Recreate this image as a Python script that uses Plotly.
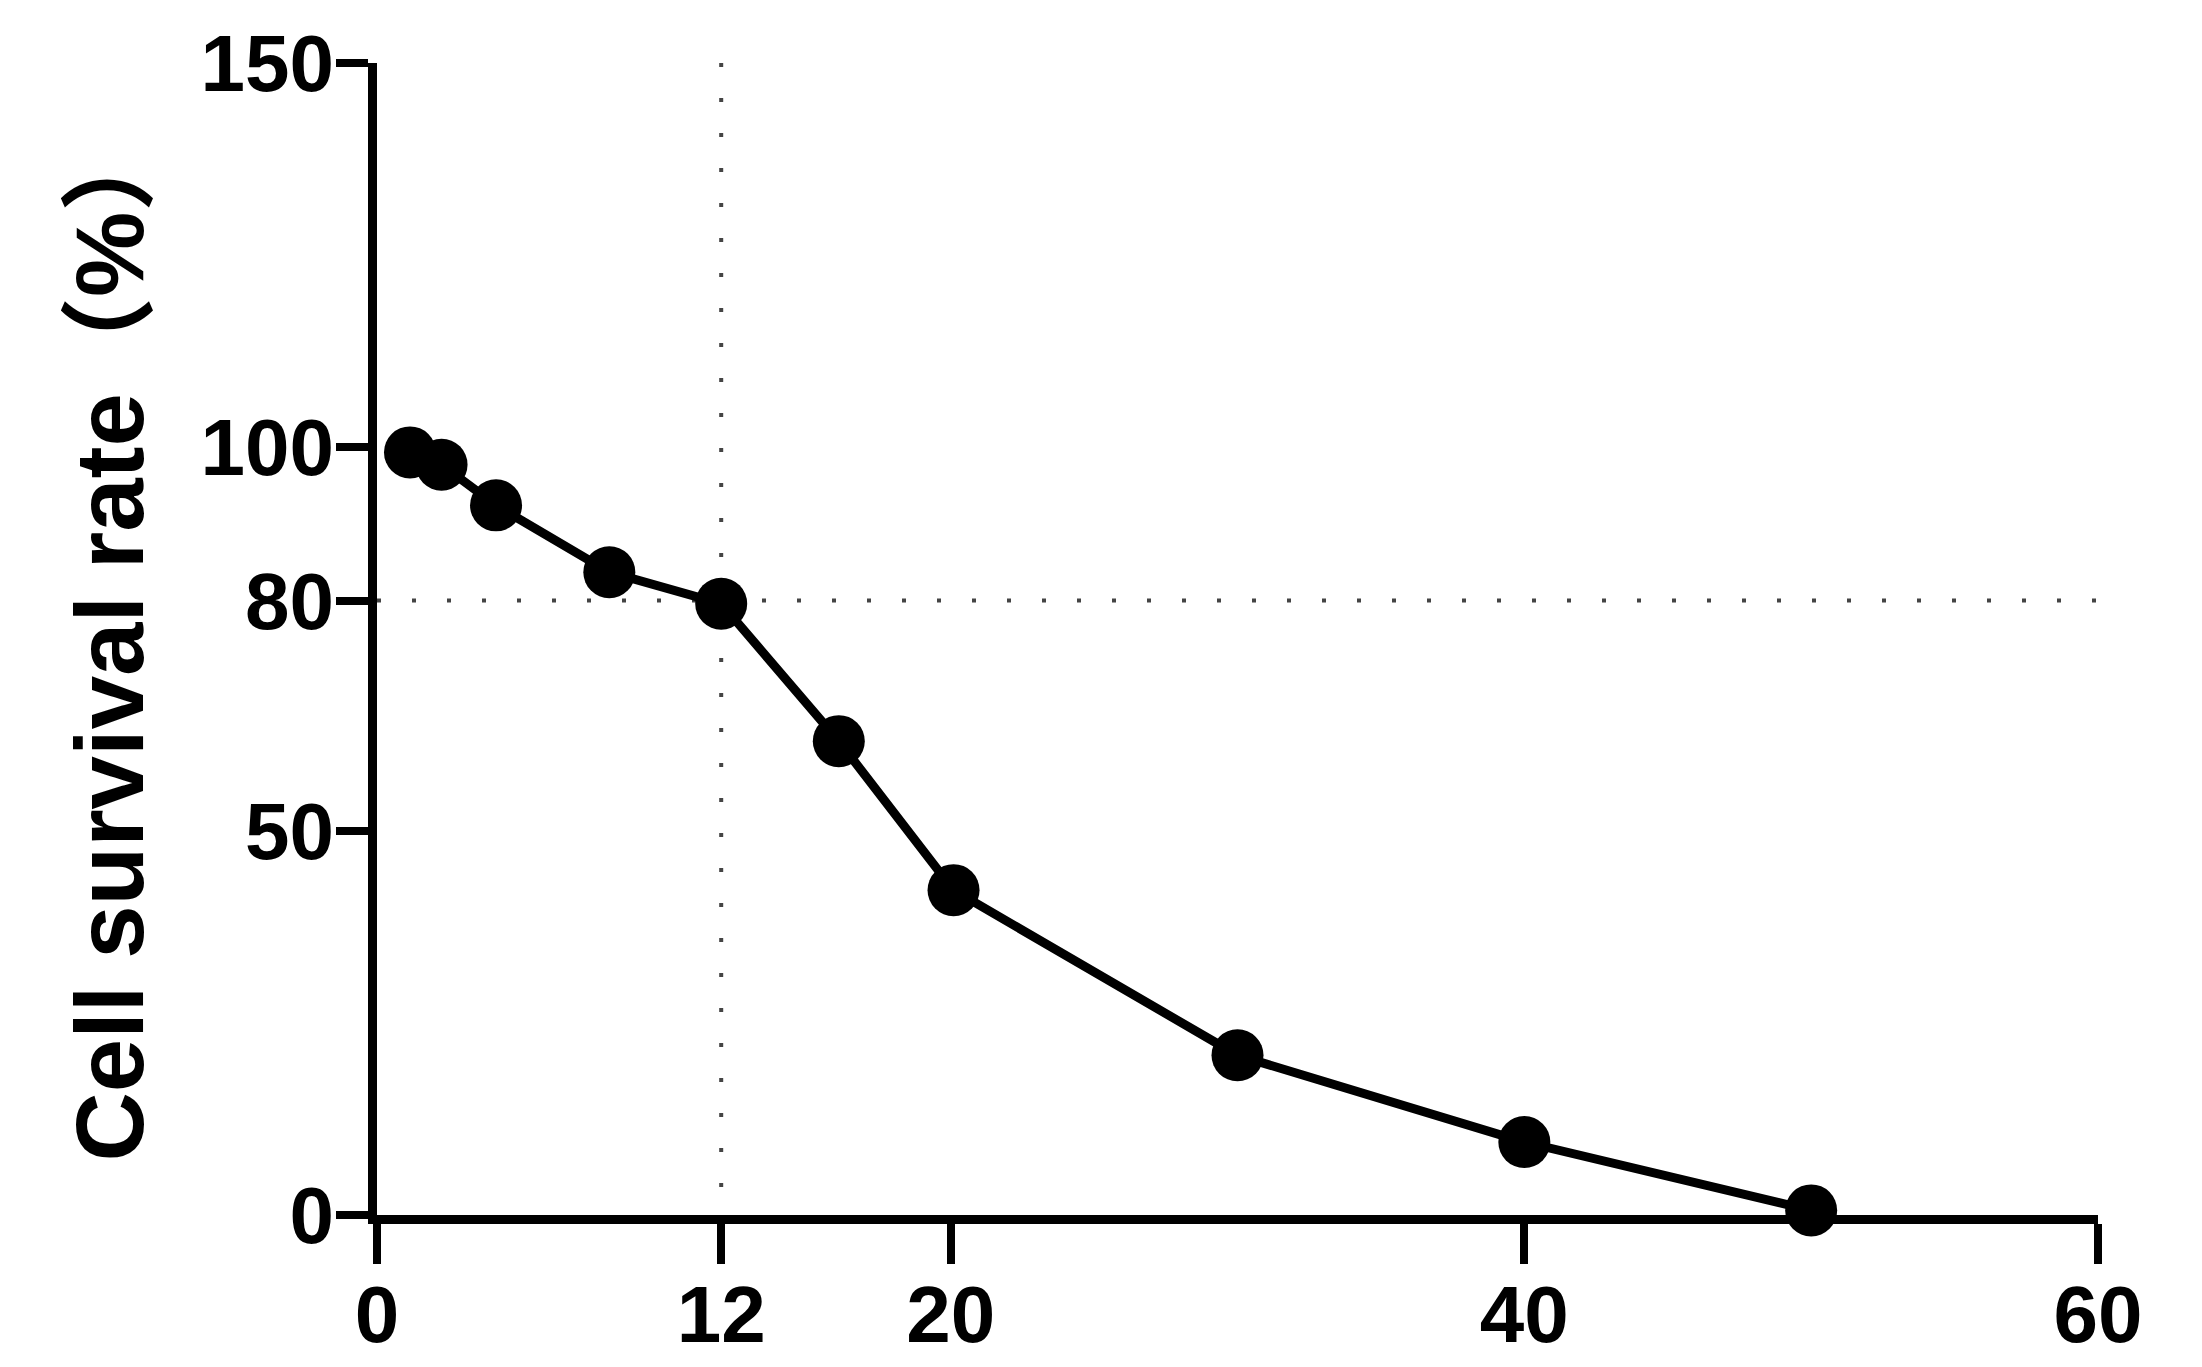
import plotly.graph_objects as go

# drug concentration vs survival
conc = [1.15, 2.25, 4.15, 8.1, 12, 16.1, 20.1, 30, 40, 50]
survival = [99.3, 97.7, 92.4, 83.7, 79.6, 61.7, 42.3, 20.8, 9.5, 0.6]

x_ticks = [0, 12, 20, 40, 60]
y_ticks = [0, 50, 80, 100, 150]

# reference lines: guide at 12 / 80%
guide_v_x = [12, 12]
guide_v_y = [150, 0]
guide_h_x = [0, 60]
guide_h_y = [80, 80]

FONT = "Liberation Sans, Arial, Noto Sans CJK SC"

fig = go.Figure()
fig.add_scatter(x=guide_v_x, y=guide_v_y, mode="lines", hoverinfo="skip",
                line=dict(color="#444444", width=4, dash="4px,31px"))
fig.add_scatter(x=guide_h_x, y=guide_h_y, mode="lines", hoverinfo="skip",
                line=dict(color="#444444", width=4, dash="4px,31px"))
fig.add_scatter(x=conc, y=survival, mode="lines+markers", cliponaxis=False,
                line=dict(color="black", width=9),
                marker=dict(color="black", size=52, symbol="circle"))

axis_common = dict(
    showline=True, linecolor="black", linewidth=9, automargin=False,
    ticks="outside", tickcolor="black", tickwidth=8,
    showgrid=False, zeroline=False, layer="below traces",
    tickfont=dict(family=FONT, size=80, color="black", weight="bold"),
)
fig.update_xaxes(range=[0, 60], tickvals=x_ticks, ticklen=40, ticklabelstandoff=-18, **axis_common)
fig.update_yaxes(range=[0, 150], tickvals=y_ticks, ticklen=32, ticklabelstandoff=-14, **axis_common)

fig.add_annotation(
    text="Cell survival rate（%）", textangle=-90, showarrow=False,
    xref="paper", yref="paper", x=-0.156, y=0.5, xanchor="center", yanchor="middle",
    font=dict(family=FONT, size=96, color="black", weight="bold"),
)

# page body adds an 8px margin, so the figure is 8px smaller than the window
fig.update_layout(
    width=2194, height=1359, showlegend=False,
    plot_bgcolor="white", paper_bgcolor="white",
    margin=dict(l=369, r=104, t=55, b=152),
)
fig.write_html("out.html")
